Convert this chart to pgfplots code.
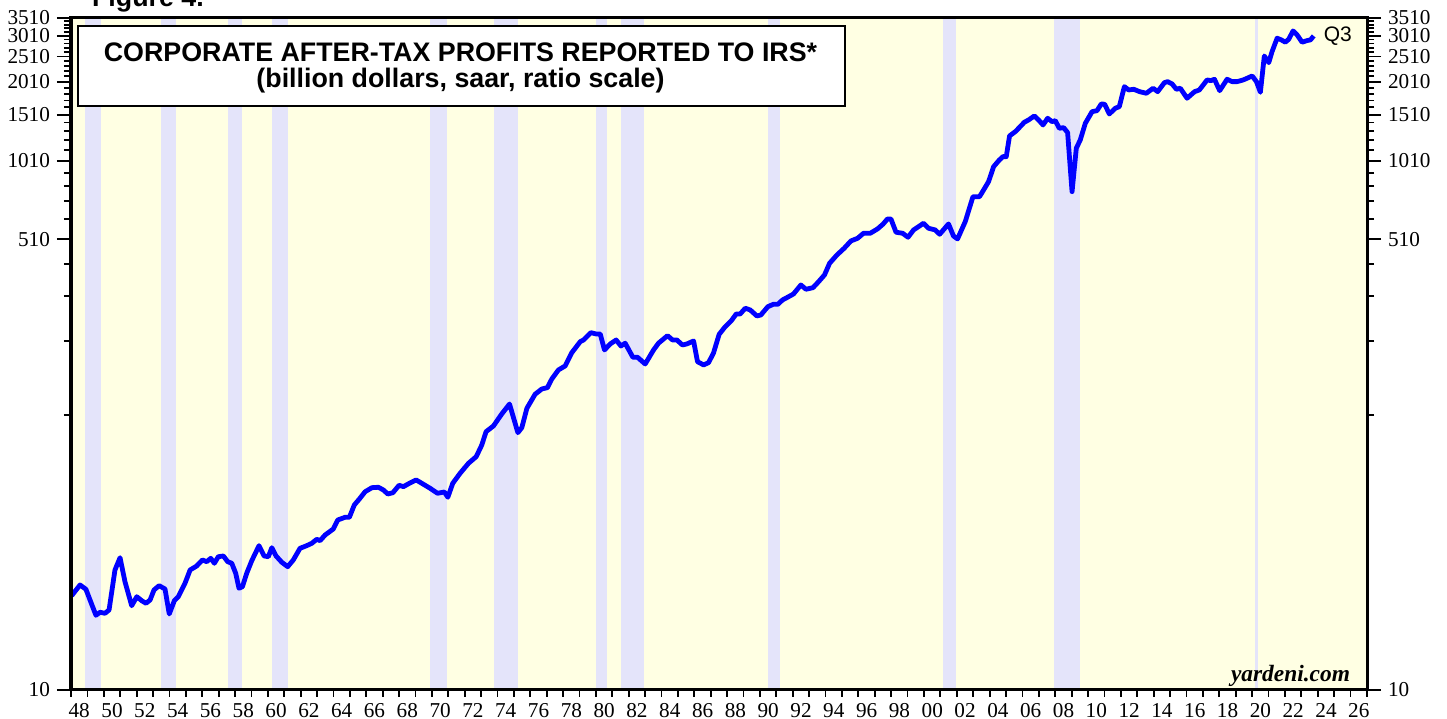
\documentclass[border=0pt]{standalone}
\usepackage{fontspec}
\setmainfont{Liberation Serif}
\newfontfamily\arial{Liberation Sans}
\usepackage{pgfplots}
\pgfplotsset{compat=1.18}
\usetikzlibrary{calc}

\definecolor{bgyellow}{RGB}{255,255,227}
\definecolor{recess}{RGB}{228,228,250}
\definecolor{lineblue}{RGB}{0,0,255}

\begin{document}
\begin{tikzpicture}
\begin{axis}[name=ax,
  width=648pt, height=336pt, scale only axis,
  xmin=1948, xmax=2027,
  ymode=log, ymin=10, ymax=3510,
  ytick={10,510,1010,1510,2010,2510,3010,3510},
  yticklabels={10,510,1010,1510,2010,2510,3010,3510},
  minor ytick={110,210,...,3410},
  tick align=outside,
  major tick length=7pt,
  minor tick length=3.5pt,
  tick style={black, line width=0.9pt},
  ticklabel style={font=\fontsize{10.6}{11}\selectfont},
  xticklabel style={yshift=3.8pt, text height=7.2pt, text depth=0pt},
  axis line style={line width=1.5pt},
  axis background/.style={fill=bgyellow},
  axis on top,
  ytick pos=left, xtick pos=left,
  xtick={1948.5,1950.5,...,2026.5},
  xticklabels={48,50,52,54,56,58,60,62,64,66,68,70,72,74,76,78,80,82,84,86,88,90,92,94,96,98,00,02,04,06,08,10,12,14,16,18,20,22,24,26},
  major x tick style={draw=none},
  minor xtick={1948,...,2027},
]
% recessions
\addplot[fill=recess, draw=none] coordinates {(1948.85,10) (1948.85,3510) (1949.8,3510) (1949.8,10)};
\addplot[fill=recess, draw=none] coordinates {(1953.5,10) (1953.5,3510) (1954.4,3510) (1954.4,10)};
\addplot[fill=recess, draw=none] coordinates {(1957.6,10) (1957.6,3510) (1958.4,3510) (1958.4,10)};
\addplot[fill=recess, draw=none] coordinates {(1960.27,10) (1960.27,3510) (1961.22,3510) (1961.22,10)};
\addplot[fill=recess, draw=none] coordinates {(1969.9,10) (1969.9,3510) (1970.92,3510) (1970.92,10)};
\addplot[fill=recess, draw=none] coordinates {(1973.8,10) (1973.8,3510) (1975.25,3510) (1975.25,10)};
\addplot[fill=recess, draw=none] coordinates {(1980.0,10) (1980.0,3510) (1980.67,3510) (1980.67,10)};
\addplot[fill=recess, draw=none] coordinates {(1981.5,10) (1981.5,3510) (1982.92,3510) (1982.92,10)};
\addplot[fill=recess, draw=none] coordinates {(1990.5,10) (1990.5,3510) (1991.22,3510) (1991.22,10)};
\addplot[fill=recess, draw=none] coordinates {(2001.18,10) (2001.18,3510) (2001.96,3510) (2001.96,10)};
\addplot[fill=recess, draw=none] coordinates {(2007.93,10) (2007.93,3510) (2009.52,3510) (2009.52,10)};
\addplot[fill=recess, draw=none] coordinates {(2020.15,10) (2020.15,3510) (2020.37,3510) (2020.37,10)};

% corporate after-tax profits, billion dollars
\addplot[lineblue, line width=2.4pt, line join=round] coordinates {
(1948.04,22.76) (1948.55,24.99) (1948.91,24.07) (1949.16,21.92) (1949.52,19.19)
(1949.77,19.70) (1950.07,19.52) (1950.32,20.09) (1950.68,28.48) (1950.99,31.70)
(1951.29,25.72) (1951.70,20.86) (1952.01,22.56) (1952.31,21.79) (1952.57,21.30)
(1952.82,21.92) (1953.06,23.92) (1953.37,24.84) (1953.73,24.13) (1953.99,19.41)
(1954.30,21.79) (1954.54,22.56) (1954.95,25.37) (1955.26,28.48) (1955.66,29.49)
(1956.01,31.08) (1956.27,30.62) (1956.52,31.54) (1956.74,30.20) (1956.98,31.98)
(1957.29,32.18) (1957.55,30.62) (1957.80,30.20) (1958.04,27.67) (1958.24,24.28)
(1958.45,24.62) (1958.71,27.67) (1959.02,30.89) (1959.46,35.21) (1959.77,32.18)
(1960.03,31.98) (1960.24,34.59) (1960.50,32.18) (1960.85,30.46) (1961.21,29.31)
(1961.55,31.08) (1961.96,34.41) (1962.37,35.21) (1962.68,35.95) (1962.98,37.23)
(1963.18,36.78) (1963.49,38.65) (1963.99,40.73) (1964.26,44.05) (1964.71,45.10)
(1964.97,45.10) (1965.27,50.22) (1965.58,52.91) (1965.93,56.37) (1966.34,58.38)
(1966.74,58.59) (1967.04,57.23) (1967.31,55.26) (1967.62,55.88) (1968.00,59.63)
(1968.26,58.90) (1968.63,60.67) (1969.04,62.45) (1969.38,60.67) (1969.89,58.08)
(1970.34,55.60) (1970.76,56.23) (1970.97,53.70) (1971.27,60.67) (1971.72,66.21)
(1972.23,72.24) (1972.70,76.51) (1973.04,84.72) (1973.30,95.15) (1973.75,100.0)
(1974.26,111.1) (1974.73,121.1) (1975.24,94.33) (1975.48,98.54) (1975.79,116.7)
(1976.29,131.9) (1976.70,138.1) (1977.04,139.7) (1977.31,150.7) (1977.71,163.0)
(1978.12,168.8) (1978.53,189.6) (1979.04,208.6) (1979.24,211.7) (1979.69,225.7)
(1980.01,223.1) (1980.26,223.1) (1980.52,194.1) (1980.87,204.5) (1981.23,211.7)
(1981.52,200.9) (1981.78,205.8) (1982.25,182.1) (1982.53,182.1) (1983.00,171.7)
(1983.51,194.1) (1983.81,205.8) (1984.36,219.8) (1984.67,211.7) (1984.93,211.7)
(1985.27,202.7) (1985.54,204.5) (1985.95,209.9) (1986.19,175.2) (1986.56,170.3)
(1986.86,173.7) (1987.16,188.6) (1987.51,222.5) (1987.88,237.8) (1988.24,249.9)
(1988.55,265.6) (1988.79,265.6) (1989.10,279.2) (1989.40,275.1) (1989.81,261.0)
(1990.05,263.3) (1990.48,283.1) (1990.82,289.1) (1991.09,289.1) (1991.37,300.1)
(1991.68,307.3) (1992.04,316.2) (1992.49,342.0) (1992.80,329.5) (1993.23,334.1)
(1993.57,352.0) (1993.93,373.3) (1994.24,413.3) (1994.69,444.4) (1995.13,471.1)
(1995.54,502.1) (1995.95,514.0) (1996.31,537.0) (1996.72,537.0) (1997.16,557.6)
(1997.49,580.8) (1997.77,608.3) (1997.98,608.3) (1998.29,541.7) (1998.69,537.0)
(1999.02,518.6) (1999.36,552.7) (1999.66,568.8) (1999.97,586.0) (2000.27,561.0)
(2000.68,552.7) (2000.95,532.3) (2001.49,582.4) (2001.79,524.6) (2002.04,510.9)
(2002.51,594.2) (2002.98,738.9) (2003.38,738.9) (2003.63,783.4) (2003.93,842.2)
(2004.24,960.0) (2004.59,1017.6) (2004.81,1047.4) (2005.01,1047.4) (2005.21,1254.8)
(2005.56,1302.7) (2005.80,1348.8) (2006.11,1413.9) (2006.37,1442.5) (2006.72,1493.6)
(2006.98,1442.5) (2007.25,1380.8) (2007.53,1463.9) (2007.80,1421.4) (2008.00,1433.7)
(2008.24,1341.6) (2008.51,1348.8) (2008.75,1291.5) (2009.02,771.9) (2009.28,1127.3)
(2009.52,1211.5) (2009.83,1401.3) (2010.24,1550.6) (2010.54,1564.2) (2010.80,1658.4)
(2011.01,1654.2) (2011.29,1520.0) (2011.66,1597.6) (2011.90,1620.0) (2012.21,1928.7)
(2012.47,1873.8) (2012.78,1885.3) (2013.14,1846.3) (2013.55,1820.6) (2013.96,1902.0)
(2014.24,1846.3) (2014.65,1997.2) (2014.85,2014.7) (2015.12,1974.8) (2015.38,1885.3)
(2015.62,1902.0) (2016.03,1743.3) (2016.49,1846.3) (2016.78,1873.8) (2017.25,2044.5)
(2017.49,2032.3) (2017.70,2057.2) (2018.02,1862.6) (2018.47,2057.2) (2018.78,2014.7)
(2019.08,2014.7) (2019.45,2044.5) (2019.69,2074.9) (2020.00,2117.4) (2020.26,2014.7)
(2020.50,1836.6) (2020.74,2520.0) (2021.01,2377.0) (2021.21,2616.6) (2021.52,2942.5)
(2021.78,2899.2) (2022.02,2841.4) (2022.23,2917.1) (2022.49,3135.1) (2022.74,3027.9)
(2023.04,2841.4) (2023.35,2882.3) (2023.55,2899.2) (2023.75,3001.2)
};
\node[anchor=west, font=\arial\fontsize{10.5}{12}\selectfont, xshift=1.5pt] at (axis cs:2023.75,3001.2) {Q3};
\end{axis}

% right-hand scale
\begin{axis}[
  width=648pt, height=336pt, scale only axis,
  xmin=1948, xmax=2027,
  ymode=log, ymin=10, ymax=3510,
  ytick={10,510,1010,1510,2010,2510,3010,3510},
  yticklabels={10,510,1010,1510,2010,2510,3010,3510},
  minor ytick={110,210,...,3410},
  tick align=outside,
  major tick length=7pt,
  minor tick length=3.5pt,
  tick style={black, line width=0.9pt},
  ticklabel style={font=\fontsize{10.6}{11}\selectfont},
  axis line style={line width=1.5pt},
  hide x axis,
  ytick pos=right, yticklabel pos=right,
]
\addplot[draw=none] coordinates {(1950,100)};
\end{axis}

% title box and credits
\node[draw=black, line width=1pt, fill=white, anchor=north west,
      minimum width=383.5pt, minimum height=40pt, inner sep=0pt]
  at ($(ax.north west)+(3pt,-3.5pt)$) {};
\node[anchor=base, font=\arial\bfseries\fontsize{13.4}{14}\selectfont]
  at ($(ax.north west)+(194.75pt,-21.8pt)$) {CORPORATE AFTER-TAX PROFITS REPORTED TO IRS*};
\node[anchor=base, font=\arial\bfseries\fontsize{13.4}{14}\selectfont]
  at ($(ax.north west)+(194.75pt,-34.6pt)$) {(billion dollars, saar, ratio scale)};
\node[anchor=base east, font=\bfseries\itshape\fontsize{11.7}{12}\selectfont]
  at ($(ax.south east)+(-5pt,4.2pt)$) {yardeni.com};
\node[anchor=base west, font=\arial\bfseries\fontsize{13.4}{14}\selectfont]
  at ($(ax.north west)+(7pt,5.6pt)$) {Figure 4.};

\pgfresetboundingbox
\path[use as bounding box] ($(ax.south west)+(-35.5pt,-14.5pt)$) rectangle ($(ax.north east)+(40pt,9pt)$);
\end{tikzpicture}
\end{document}
